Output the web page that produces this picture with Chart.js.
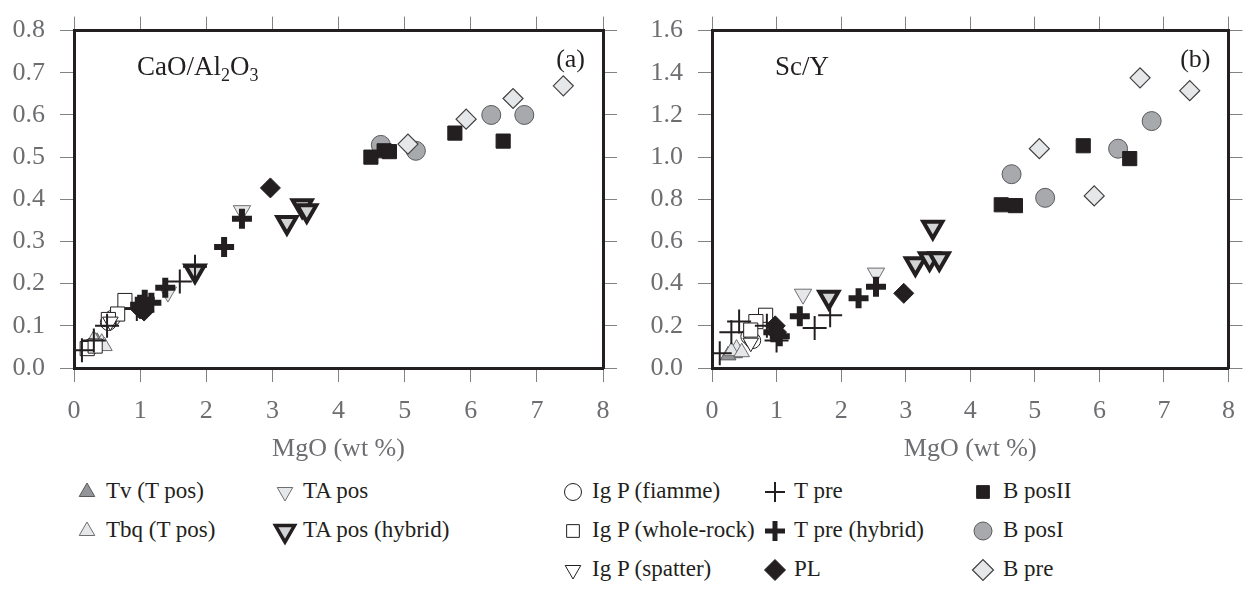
<!DOCTYPE html>
<html>
<head>
<meta charset="utf-8">
<script src="https://cdn.jsdelivr.net/npm/chart.js@4/dist/chart.umd.min.js"></script>
<style>
  body { margin: 0; background: #fff; width: 1249px; height: 611px; position: relative; overflow: hidden;
         font-family: "Liberation Serif", "Times New Roman", serif; }
  #left, #right { position: absolute; top: 0; }
  #left { left: 0; }
  #right { left: 650px; }
  .leg { position: absolute; font-family: "Liberation Serif", serif; font-size: 23px; color: #231f20;
         white-space: nowrap; line-height: 26px; }
  .mk { position: absolute; }
</style>
</head>
<body>
<canvas id="left" width="650" height="470"></canvas>
<canvas id="right" width="599" height="470"></canvas>
<div id="legend"></div>
<script>
// x ticks (MgO wt %)
const mgoTicks = [0, 1, 2, 3, 4, 5, 6, 7, 8];

// panel (a) CaO/Al2O3 vs MgO, [MgO, ratio]
const tvA      = [[0.35, 0.062], [0.28, 0.055]];
const tbqA     = [[0.30, 0.068], [0.42, 0.060], [0.46, 0.052], [0.22, 0.048]];
const fiammeA  = [[0.58, 0.118], [0.52, 0.108], [0.25, 0.050]];
const wholeA   = [[0.77, 0.160], [0.66, 0.128], [0.52, 0.115], [0.20, 0.046], [0.32, 0.052]];
const spatterA = [[0.55, 0.110]];
const taPosA   = [[2.54, 0.373], [1.42, 0.180]];
const taHybA   = [[3.22, 0.345], [3.45, 0.385], [3.52, 0.373], [1.83, 0.230]];
const tPreA    = [[0.12, 0.042], [0.30, 0.065], [0.50, 0.100], [0.95, 0.140], [1.60, 0.205], [1.83, 0.240]];
const tPreHybA = [[1.00, 0.150], [1.07, 0.162], [1.17, 0.155], [1.38, 0.190], [2.27, 0.287], [2.54, 0.354]];
const plA      = [[2.97, 0.427], [1.00, 0.140], [1.06, 0.135]];
const bPosIA   = [[4.64, 0.529], [5.17, 0.515], [6.31, 0.600], [6.81, 0.600]];
const bPosIIA  = [[4.49, 0.500], [4.69, 0.515], [4.77, 0.513], [5.76, 0.557], [6.49, 0.538]];
const bPreA    = [[5.05, 0.531], [5.93, 0.590], [6.64, 0.639], [7.40, 0.669]];

// panel (b) Sc/Y vs MgO
const tvB      = [[0.35, 0.070], [0.25, 0.060]];
const tbqB     = [[0.38, 0.092], [0.30, 0.080], [0.46, 0.075]];
const fiammeB  = [[0.57, 0.150], [0.63, 0.130]];
const wholeB   = [[0.83, 0.250], [0.68, 0.220], [0.60, 0.180]];
const spatterB = [[0.60, 0.120]];
const taPosB   = [[2.54, 0.450], [1.41, 0.350]];
const taHybB   = [[3.42, 0.667], [3.15, 0.494], [3.37, 0.518], [3.52, 0.518], [1.81, 0.335]];
const tPreB    = [[1.59, 0.190], [1.83, 0.250], [0.42, 0.220], [0.30, 0.170], [0.12, 0.070], [1.00, 0.130], [0.85, 0.200]];
const tPreHybB = [[2.27, 0.331], [2.54, 0.385], [1.36, 0.245], [0.95, 0.170], [1.05, 0.150]];
const plB      = [[2.97, 0.354], [0.98, 0.200], [1.00, 0.170]];
const bPosIB   = [[6.81, 1.171], [6.29, 1.040], [4.64, 0.919], [5.16, 0.807]];
const bPosIIB  = [[5.75, 1.054], [6.47, 0.993], [4.48, 0.774], [4.70, 0.770]];
const bPreB    = [[6.63, 1.376], [7.40, 1.315], [5.07, 1.040], [5.92, 0.816]];

const legendRows = [
  ["Tv (T pos)", "tv", 0, 0], ["Tbq (T pos)", "tbq", 0, 1],
  ["TA pos", "taPos", 1, 0], ["TA pos (hybrid)", "taHyb", 1, 1],
  ["Ig P (fiamme)", "fiamme", 2, 0], ["Ig P (whole-rock)", "whole", 2, 1], ["Ig P (spatter)", "spatter", 2, 2],
  ["T pre", "tPre", 3, 0], ["T pre (hybrid)", "tPreHyb", 3, 1], ["PL", "pl", 3, 2],
  ["B posII", "bPosII", 4, 0], ["B posI", "bPosI", 4, 1], ["B pre", "bPre", 4, 2]
];

const INK = "#231f20";
const GREY = "#6d6e71";
const FONT = "Liberation Serif";

const styles = {
  tv:      { pointStyle: "triangle", rotation: 0,   radius: 9,  bg: "#939598", bd: "#58595b", bw: 1 },
  tbq:     { pointStyle: "triangle", rotation: 0,   radius: 9,  bg: "#e6e7e8", bd: "#6d6e71", bw: 1 },
  fiamme:  { pointStyle: "circle",   rotation: 0,   radius: 8,  bg: "#ffffff", bd: INK, bw: 1 },
  whole:   { pointStyle: "rect",     rotation: 0,   radius: 10, bg: "#ffffff", bd: INK, bw: 1 },
  spatter: { pointStyle: "triangle", rotation: 180, radius: 9,  bg: "#ffffff", bd: INK, bw: 1 },
  taPos:   { pointStyle: "triangle", rotation: 180, radius: 10, bg: "#e6e7e8", bd: "#6d6e71", bw: 1 },
  taHyb:   { pointStyle: "triangle", rotation: 180, radius: 11, bg: "#d1d3d4", bd: INK, bw: 4 },
  tPre:    { pointStyle: "cross",    rotation: 0,   radius: 12, bg: INK, bd: INK, bw: 2 },
  tPreHyb: { pointStyle: "cross",    rotation: 0,   radius: 10, bg: INK, bd: INK, bw: 6 },
  pl:      { pointStyle: "rectRot",  rotation: 0,   radius: 10, bg: INK, bd: INK, bw: 1 },
  bPosI:   { pointStyle: "circle",   rotation: 0,   radius: 9.5, bg: "#a7a9ac", bd: "#58595b", bw: 1 },
  bPosII:  { pointStyle: "rect",     rotation: 0,   radius: 10, bg: INK, bd: INK, bw: 1 },
  bPre:    { pointStyle: "rectRot",  rotation: 0,   radius: 10, bg: "#e6e7e8", bd: "#414042", bw: 1.2 }
};

function ds(key, pts) {
  const s = styles[key];
  return {
    label: key,
    data: pts.map(p => ({ x: p[0], y: p[1] })),
    pointStyle: s.pointStyle,
    rotation: s.rotation,
    pointRadius: s.radius,
    backgroundColor: s.bg,
    borderColor: s.bd,
    borderWidth: s.bw,
    showLine: false
  };
}

const panelText = {
  id: "panelText",
  afterDraw(chart, args, opts) {
    const { ctx, chartArea: a } = chart;
    ctx.save();
    ctx.fillStyle = INK;
    ctx.textBaseline = "alphabetic";
    let x = a.left + 63;
    opts.parts.forEach(p => {
      ctx.font = (p.sub ? "18px " : "27px ") + FONT;
      ctx.fillText(p.t, x, a.top + 44 + (p.sub ? 6 : 0));
      x += ctx.measureText(p.t).width;
    });
    ctx.font = "26px " + FONT;
    ctx.textAlign = "right";
    ctx.fillText(opts.tag, a.right - 18, a.top + 36);
    ctx.restore();
  }
};

function axis(pos, min, max, step, showLabels, fix) {
  const horiz = pos === "top" || pos === "bottom";
  return {
    type: "linear", position: pos, min: min, max: max,
    afterBuildTicks: s => { if (horiz) s.ticks = mgoTicks.map(v => ({ value: v })); },
    afterFit: fix,
    ticks: {
      display: showLabels, stepSize: step, color: GREY, padding: horiz ? 14 : 15,
      font: { family: FONT, size: 26 },
      callback: v => horiz ? String(v) : v.toFixed(1)
    },
    grid: { drawOnChartArea: false, drawTicks: true, tickLength: 14, color: "#808285", lineWidth: 1 },
    border: { display: true, color: INK, width: 3 },
    title: (pos === "bottom") ? { display: true, text: "MgO (wt %)", color: GREY,
      font: { family: FONT, size: 26 }, padding: { top: 0, bottom: 5 } } : { display: false }
  };
}

function makePanel(id, sets, yMax, yStep, leftW, rightW, parts, tag) {
  const order = ["tv", "tbq", "fiamme", "whole", "spatter", "taPos", "taHyb",
                 "tPre", "tPreHyb", "pl", "bPosI", "bPosII", "bPre"];
  const datasets = order.map(k => ds(k, sets[k])).reverse();
  new Chart(document.getElementById(id), {
    type: "scatter",
    data: { datasets: datasets },
    plugins: [panelText],
    options: {
      responsive: false, animation: false, devicePixelRatio: 1,
      layout: { padding: 0 },
      plugins: { legend: { display: false }, tooltip: { enabled: false },
                 panelText: { parts: parts, tag: tag } },
      scales: {
        x:  axis("bottom", 0, 8, 1, true,  s => { s.height = 470 - 368; }),
        x2: axis("top",    0, 8, 1, false, s => { s.height = 25; }),
        y:  axis("left",   0, yMax, yStep, true,  s => { s.width = leftW; }),
        y2: axis("right",  0, yMax, yStep, false, s => { s.width = rightW; })
      }
    }
  });
}

makePanel("left", {
  tv: tvA, tbq: tbqA, fiamme: fiammeA, whole: wholeA, spatter: spatterA, taPos: taPosA, taHyb: taHybA,
  tPre: tPreA, tPreHyb: tPreHybA, pl: plA, bPosI: bPosIA, bPosII: bPosIIA, bPre: bPreA
}, 0.8, 0.1, 74, 47,
  [{ t: "CaO/Al" }, { t: "2", sub: true }, { t: "O" }, { t: "3", sub: true }], "(a)");

makePanel("right", {
  tv: tvB, tbq: tbqB, fiamme: fiammeB, whole: wholeB, spatter: spatterB, taPos: taPosB, taHyb: taHybB,
  tPre: tPreB, tPreHyb: tPreHybB, pl: plB, bPosI: bPosIB, bPosII: bPosIIB, bPre: bPreB
}, 1.6, 0.2, 62, 8, [{ t: "Sc/Y" }], "(b)");

// legend
const colMarkX = [87, 285, 573, 775, 983];
const colTextX = [106, 303, 592, 794, 1003];
const rowY = [492, 531, 570];
const legendSize = { tv: 9, tbq: 9, fiamme: 8.5, whole: 9, spatter: 9, taPos: 9, taHyb: 11,
                     tPre: 10, tPreHyb: 10, pl: 10.5, bPosI: 9, bPosII: 9, bPre: 10.5 };
const legendWidth = { taHyb: 3.5, tPreHyb: 5, tPre: 2 };
const host = document.getElementById("legend");
legendRows.forEach(([text, key, col, row]) => {
  const s = styles[key];
  const c = document.createElement("canvas");
  c.width = 30; c.height = 30; c.className = "mk";
  c.style.left = (colMarkX[col] - 15) + "px";
  c.style.top = (rowY[row] - 15) + "px";
  host.appendChild(c);
  const g = c.getContext("2d");
  g.fillStyle = s.bg; g.strokeStyle = s.bd;
  g.lineWidth = legendWidth[key] || s.bw;
  Chart.helpers.drawPoint(g, { pointStyle: s.pointStyle, rotation: s.rotation,
    radius: legendSize[key], borderWidth: legendWidth[key] || s.bw }, 15, 15);
  const t = document.createElement("div");
  t.className = "leg";
  t.textContent = text;
  t.style.left = colTextX[col] + "px";
  t.style.top = (rowY[row] - 14) + "px";
  host.appendChild(t);
});
</script>
</body>
</html>
